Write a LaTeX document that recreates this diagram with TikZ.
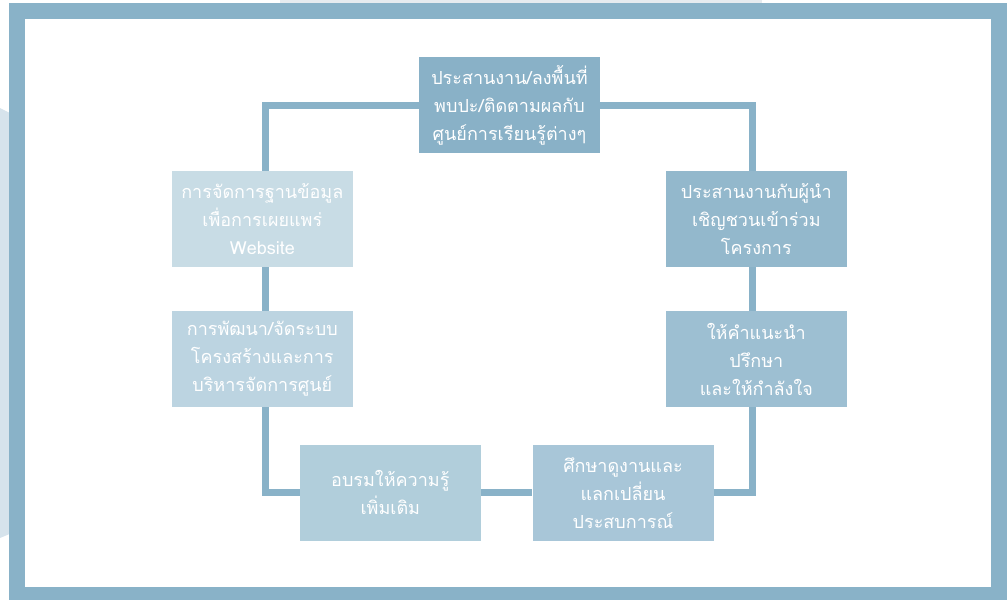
\documentclass[tikz,border=0pt]{standalone}
\usepackage{fontspec}
\newfontfamily\thaifont[Script=Thai]{Loma}
\definecolor{framec}{HTML}{89B2C8}
\definecolor{ctop}{HTML}{89B1C7}
\definecolor{cla}{HTML}{C8DCE5}
\definecolor{clb}{HTML}{BCD4E1}
\definecolor{cra}{HTML}{93B8CC}
\definecolor{crb}{HTML}{9DBFD2}
\definecolor{cbl}{HTML}{B1CEDB}
\definecolor{cbr}{HTML}{A8C6D8}
\definecolor{bgl}{HTML}{D6E3EC}
\definecolor{bgt}{HTML}{E6EBEF}
\begin{document}
\begin{tikzpicture}[x=0.75pt,y=-0.75pt,
  stepbox/.style={minimum width=135.75pt,minimum height=72pt,inner sep=0pt,
    align=center,text=white,font=\thaifont\fontsize{13.5}{21}\selectfont},
  loopline/.style={draw=framec,line width=5.25pt,line join=miter}]
\useasboundingbox (0,0) rectangle (1007,600);
% background shapes
\fill[bgt] (280,0) rectangle (762,4);
\fill[bgl] (0,108) -- (12,114) -- (12,533) -- (0,538) -- cycle;
% frame
\fill[framec] (9,3) rectangle (1007,600);
\fill[white] (25,19) rectangle (991,587);
% boxes
\node[stepbox,fill=ctop] (top) at (509.5,105.3) {ประสานงาน/ลงพื้นที่\\พบปะ/ติดตามผลกับ\\ศูนย์การเรียนรู้ต่างๆ};
\node[stepbox,fill=cla] (la) at (262.3,219) {การจัดการฐานข้อมูล\\เพื่อการเผยแพร่\\Website};
\node[stepbox,fill=clb] (lb) at (262.3,359) {การพัฒนา/จัดระบบ\\โครงสร้างและการ\\บริหารจัดการศูนย์};
\node[stepbox,fill=cra] (ra) at (756.3,219) {ประสานงานกับผู้นำ\\เชิญชวนเข้าร่วม\\โครงการ};
\node[stepbox,fill=crb] (rb) at (756.3,359) {ให้คำแนะนำ\\ปรึกษา\\และให้กำลังใจ};
\node[stepbox,fill=cbl] (bl) at (390.3,492.8) {อบรมให้ความรู้\\เพิ่มเติม};
\node[stepbox,fill=cbr] (br) at (623,492.8) {ศึกษาดูงานและ\\แลกเปลี่ยน\\ประสบการณ์};
% connectors
\draw[loopline] (top.west) -| ([xshift=2.4pt]la.north);
\draw[loopline] (top.east) -| ([xshift=-3.2pt]ra.north);
\draw[loopline] ([xshift=2.4pt]la.south) -- ([xshift=2.4pt]lb.north);
\draw[loopline] ([xshift=-3.2pt]ra.south) -- ([xshift=-3.2pt]rb.north);
\draw[loopline] ([xshift=2.4pt]lb.south) |- (bl.west);
\draw[loopline] (bl.east) -- (br.west);
\draw[loopline] (br.east) -| ([xshift=-3.2pt]rb.south);
\end{tikzpicture}
\end{document}
